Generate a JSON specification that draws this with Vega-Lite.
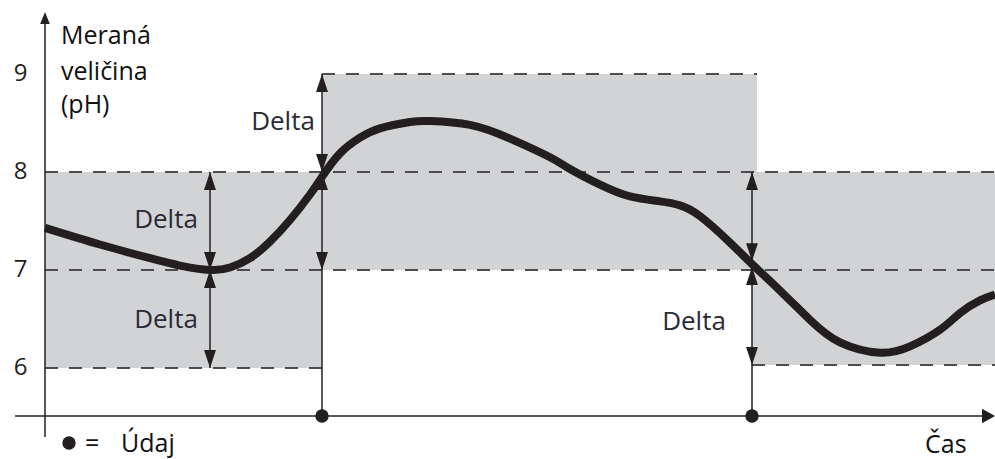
{
  "$schema": "https://vega.github.io/schema/vega-lite/v6.json",
  "width": 995,
  "height": 459,
  "autosize": {"type": "none"},
  "padding": 0,
  "background": "white",
  "config": {"view": {"stroke": null}},
  "datasets": {
    "bands": [
      {"x": 45, "x2": 322, "y": 6, "y2": 8},
      {"x": 322, "x2": 757, "y": 7, "y2": 9},
      {"x": 752, "x2": 995, "y": 6.03, "y2": 8}
    ],
    "dashed": [
      {"x": 45, "x2": 995, "y": 8},
      {"x": 45, "x2": 995, "y": 7},
      {"x": 322, "x2": 757, "y": 9},
      {"x": 45, "x2": 322, "y": 6},
      {"x": 752, "x2": 995, "y": 6.03}
    ],
    "vlines": [
      {"x": 210, "y": 6, "y2": 8},
      {"x": 322, "y": 5.51, "y2": 9},
      {"x": 752, "y": 5.51, "y2": 8},
      {"x": 45, "y": 5.296, "y2": 9.6}
    ],
    "hlines": [
      {"x": 15, "x2": 990, "y": 5.51}
    ],
    "arrowsUp": [
      {"x": 210, "y": 8},
      {"x": 210, "y": 7},
      {"x": 322, "y": 9},
      {"x": 322, "y": 8},
      {"x": 752, "y": 8},
      {"x": 752, "y": 7.03}
    ],
    "arrowsDown": [
      {"x": 210, "y": 7},
      {"x": 210, "y": 6},
      {"x": 322, "y": 8},
      {"x": 322, "y": 7},
      {"x": 752, "y": 7.09},
      {"x": 752, "y": 6.03}
    ],
    "axisUp": [{"x": 45, "y": 9.633}],
    "axisRight": [{"x": 995, "y": 5.51}],
    "dots": [
      {"x": 322, "y": 5.51},
      {"x": 752, "y": 5.51},
      {"x": 69, "y": 5.235}
    ],
    "curve": [
      {"x": 45, "y": 7.43},
      {"x": 100, "y": 7.26},
      {"x": 150, "y": 7.12},
      {"x": 180, "y": 7.045},
      {"x": 210, "y": 7.0},
      {"x": 230, "y": 7.025},
      {"x": 250, "y": 7.12},
      {"x": 270, "y": 7.29},
      {"x": 290, "y": 7.51},
      {"x": 310, "y": 7.77},
      {"x": 322, "y": 7.95},
      {"x": 340, "y": 8.19},
      {"x": 360, "y": 8.35},
      {"x": 380, "y": 8.445},
      {"x": 410, "y": 8.51},
      {"x": 430, "y": 8.52},
      {"x": 470, "y": 8.48},
      {"x": 510, "y": 8.34},
      {"x": 550, "y": 8.15},
      {"x": 570, "y": 8.03},
      {"x": 600, "y": 7.87},
      {"x": 630, "y": 7.75},
      {"x": 660, "y": 7.7},
      {"x": 680, "y": 7.66},
      {"x": 700, "y": 7.55},
      {"x": 730, "y": 7.28},
      {"x": 752, "y": 7.06},
      {"x": 780, "y": 6.79},
      {"x": 810, "y": 6.49},
      {"x": 840, "y": 6.26},
      {"x": 880, "y": 6.155},
      {"x": 910, "y": 6.22},
      {"x": 940, "y": 6.39},
      {"x": 960, "y": 6.56},
      {"x": 980, "y": 6.69},
      {"x": 995, "y": 6.75}
    ],
    "deltas": [
      {"x": 283, "y": 8.429, "label": "Delta"},
      {"x": 166, "y": 7.429, "label": "Delta"},
      {"x": 166, "y": 6.408, "label": "Delta"},
      {"x": 694, "y": 6.388, "label": "Delta"}
    ],
    "notes": [
      {"x": 61, "y": 9.306, "label": "Meraná"},
      {"x": 61, "y": 8.939, "label": "veličina"},
      {"x": 61, "y": 8.602, "label": "(pH)"},
      {"x": 85, "y": 5.143, "label": "="},
      {"x": 121, "y": 5.143, "label": "Údaj"},
      {"x": 925, "y": 5.133, "label": "Čas"}
    ]
  },
  "encoding": {
    "x": {"field": "x", "type": "quantitative", "scale": {"domain": [0, 995], "nice": false, "zero": false}, "axis": null},
    "y": {
      "field": "y",
      "type": "quantitative",
      "scale": {"domain": [5.071, 9.755], "nice": false, "zero": false},
      "axis": {
        "values": [6, 7, 8, 9],
        "title": null,
        "domain": false,
        "ticks": false,
        "tickSize": 0,
        "grid": false,
        "offset": -33,
        "labelPadding": 6,
        "labelFont": "Open Sans",
        "labelFontSize": 24,
        "labelColor": "#231f20",
        "labelBaseline": "middle"
      }
    }
  },
  "layer": [
    {
      "data": {"name": "bands"},
      "mark": {"type": "rect", "color": "#d1d3d4"},
      "encoding": {"x2": {"field": "x2"}, "y2": {"field": "y2"}}
    },
    {
      "data": {"name": "dashed"},
      "mark": {"type": "rule", "color": "#4d4d4f", "strokeWidth": 2, "strokeDash": [13, 11]},
      "encoding": {"x2": {"field": "x2"}}
    },
    {
      "data": {"name": "vlines"},
      "mark": {"type": "rule", "color": "#231f20", "strokeWidth": 1.5},
      "encoding": {"y2": {"field": "y2"}}
    },
    {
      "data": {"name": "hlines"},
      "mark": {"type": "rule", "color": "#231f20", "strokeWidth": 1.5},
      "encoding": {"x2": {"field": "x2"}}
    },
    {
      "data": {"name": "curve"},
      "mark": {"type": "line", "color": "#231f20", "strokeWidth": 8, "interpolate": "natural"},
      "encoding": {}
    },
    {
      "data": {"name": "arrowsUp"},
      "mark": {"type": "point", "shape": "M0,0L-0.33,1L0.33,1Z", "size": 1296, "filled": true, "color": "#231f20", "opacity": 1, "strokeWidth": 0}
    },
    {
      "data": {"name": "arrowsDown"},
      "mark": {"type": "point", "shape": "M0,0L-0.33,-1L0.33,-1Z", "size": 1296, "filled": true, "color": "#231f20", "opacity": 1, "strokeWidth": 0}
    },
    {
      "data": {"name": "axisUp"},
      "mark": {"type": "point", "shape": "M0,0L-0.4,1L0.4,1Z", "size": 576, "filled": true, "color": "#231f20", "opacity": 1, "strokeWidth": 0}
    },
    {
      "data": {"name": "axisRight"},
      "mark": {"type": "point", "shape": "M0,0L-1,-0.55L-1,0.55Z", "size": 676, "filled": true, "color": "#231f20", "opacity": 1, "strokeWidth": 0}
    },
    {
      "data": {"name": "dots"},
      "mark": {"type": "point", "shape": "circle", "size": 180, "filled": true, "color": "#231f20", "opacity": 1, "strokeWidth": 0}
    },
    {
      "data": {"name": "deltas"},
      "mark": {"type": "text", "font": "Open Sans", "fontSize": 26, "align": "center", "baseline": "alphabetic", "color": "#2b2a35"},
      "encoding": {"text": {"field": "label"}}
    },
    {
      "data": {"name": "notes"},
      "mark": {"type": "text", "font": "Open Sans", "fontSize": 25, "align": "left", "baseline": "alphabetic", "color": "#111111"},
      "encoding": {"text": {"field": "label"}}
    }
  ]
}
